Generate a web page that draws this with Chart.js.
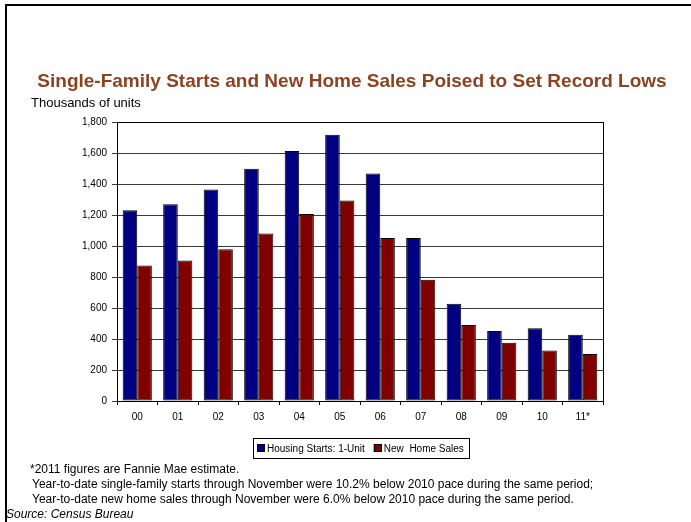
<!DOCTYPE html>
<html>
<head>
<meta charset="utf-8">
<title>Single-Family Starts and New Home Sales</title>
<script src="https://cdn.jsdelivr.net/npm/chart.js@4.4.1/dist/chart.umd.min.js"></script>
<style>
  html, body { margin: 0; padding: 0; background: #fff; }
  #wrap { position: relative; width: 691px; height: 522px; }
</style>
</head>
<body>
<div id="wrap"><canvas id="chartCanvas" width="691" height="522"></canvas></div>
<script>
/********** DATA **********/
const years = ['00', '01', '02', '03', '04', '05', '06', '07', '08', '09', '10', '11*'];
// thousands of units
const housingStarts = [1231, 1269, 1364, 1499, 1613, 1718, 1467, 1052, 627, 451, 470, 427];
const newHomeSales = [874, 906, 979, 1080, 1207, 1293, 1052, 782, 490, 376, 326, 303];
const yTicks = [0, 200, 400, 600, 800, 1000, 1200, 1400, 1600, 1800];

const chartTitle = 'Single-Family Starts and New Home Sales Poised to Set Record Lows';
const unitsLabel = 'Thousands of units';
const footnotes = [
  '*2011 figures are Fannie Mae estimate.',
  'Year-to-date single-family starts through November were 10.2% below 2010 pace during the same period;',
  'Year-to-date new home sales through November were 6.0% below 2010 pace during the same period.'
];
const sourceNote = 'Source: Census Bureau';

const FONT = '"Liberation Sans", Arial, sans-serif';
const BLUE = '#000080';
const RED = '#800000';

/********** PAGE DECORATION PLUGIN **********/
// slide frame, titles, plot border, boxed legend and notes
const pageDecor = {
  id: 'pageDecor',
  afterDraw(chart) {
    const ctx = chart.ctx;
    const area = chart.chartArea;
    ctx.save();

    // slide frame (top and left edges)
    ctx.fillStyle = '#000';
    ctx.fillRect(5, 4, 686, 2);
    ctx.fillRect(5, 4, 2, 518);

    // plot area border
    ctx.strokeStyle = '#000';
    ctx.lineWidth = 1;
    ctx.strokeRect(Math.round(area.left) + 0.5, Math.round(area.top) + 0.5,
      Math.round(area.right - area.left), Math.round(area.bottom - area.top));

    // title
    ctx.fillStyle = '#8b4423';
    ctx.font = 'bold 19px ' + FONT;
    ctx.textBaseline = 'alphabetic';
    ctx.textAlign = 'center';
    ctx.fillText(chartTitle, 352, 87);

    // units label
    ctx.fillStyle = '#000';
    ctx.textAlign = 'left';
    ctx.font = '13px ' + FONT;
    ctx.fillText(unitsLabel, 31, 107);

    // legend box
    const box = { x: 253, y: 438, w: 216, h: 20 };
    ctx.strokeStyle = '#000';
    ctx.strokeRect(box.x + 0.5, box.y + 0.5, box.w, box.h);
    ctx.font = '10px ' + FONT;
    let lx = box.x + 4;
    chart.data.datasets.forEach((ds, i) => {
      ctx.fillStyle = ds.backgroundColor;
      ctx.fillRect(lx, box.y + 6, 8, 8);
      ctx.strokeRect(lx + 0.5, box.y + 6.5, 7, 7);
      ctx.fillStyle = '#000';
      ctx.fillText(ds.label, lx + 10, box.y + 14);
      lx += 10 + ctx.measureText(ds.label).width + 9;
    });

    // notes
    ctx.font = '12px ' + FONT;
    ctx.fillText(footnotes[0], 30, 473);
    ctx.fillText(footnotes[1], 32, 488);
    ctx.fillText(footnotes[2], 32, 503);
    ctx.font = 'italic 12px ' + FONT;
    ctx.fillText(sourceNote, 6, 518);

    ctx.restore();
  }
};

/********** CHART **********/
const ctx = document.getElementById('chartCanvas').getContext('2d');
new Chart(ctx, {
  type: 'bar',
  data: {
    labels: years,
    datasets: [
      {
        label: 'Housing Starts: 1-Unit',
        data: housingStarts,
        backgroundColor: BLUE,
        borderColor: '#000',
        borderWidth: 1,
        borderSkipped: false
      },
      {
        label: 'New  Home Sales',
        data: newHomeSales,
        backgroundColor: RED,
        borderColor: '#000',
        borderWidth: 1,
        borderSkipped: false
      }
    ]
  },
  options: {
    responsive: false,
    animation: false,
    devicePixelRatio: 1,
    layout: { padding: { left: 77, right: 88, top: 122, bottom: 97 } },
    datasets: { bar: { categoryPercentage: 0.72, barPercentage: 1 } },
    plugins: {
      legend: { display: false },
      title: { display: false },
      tooltip: { enabled: false }
    },
    scales: {
      x: {
        afterFit: scale => { scale.height = 24; },
        grid: {
          offset: true,
          drawOnChartArea: false,
          color: '#000',
          tickLength: 4
        },
        border: { color: '#000' },
        ticks: {
          color: '#000',
          padding: 6,
          maxRotation: 0,
          font: { family: FONT, size: 10 }
        }
      },
      y: {
        min: 0,
        max: 1800,
        afterFit: scale => { scale.width = 40; },
        afterBuildTicks: scale => { scale.ticks = yTicks.map(v => ({ value: v })); },
        grid: { color: '#3a3a3a', tickLength: 5 },
        border: { color: '#000' },
        ticks: {
          color: '#000',
          padding: 5,
          font: { family: FONT, size: 10 },
          callback: v => v.toLocaleString('en-US')
        }
      }
    }
  },
  plugins: [pageDecor]
});
</script>
</body>
</html>
